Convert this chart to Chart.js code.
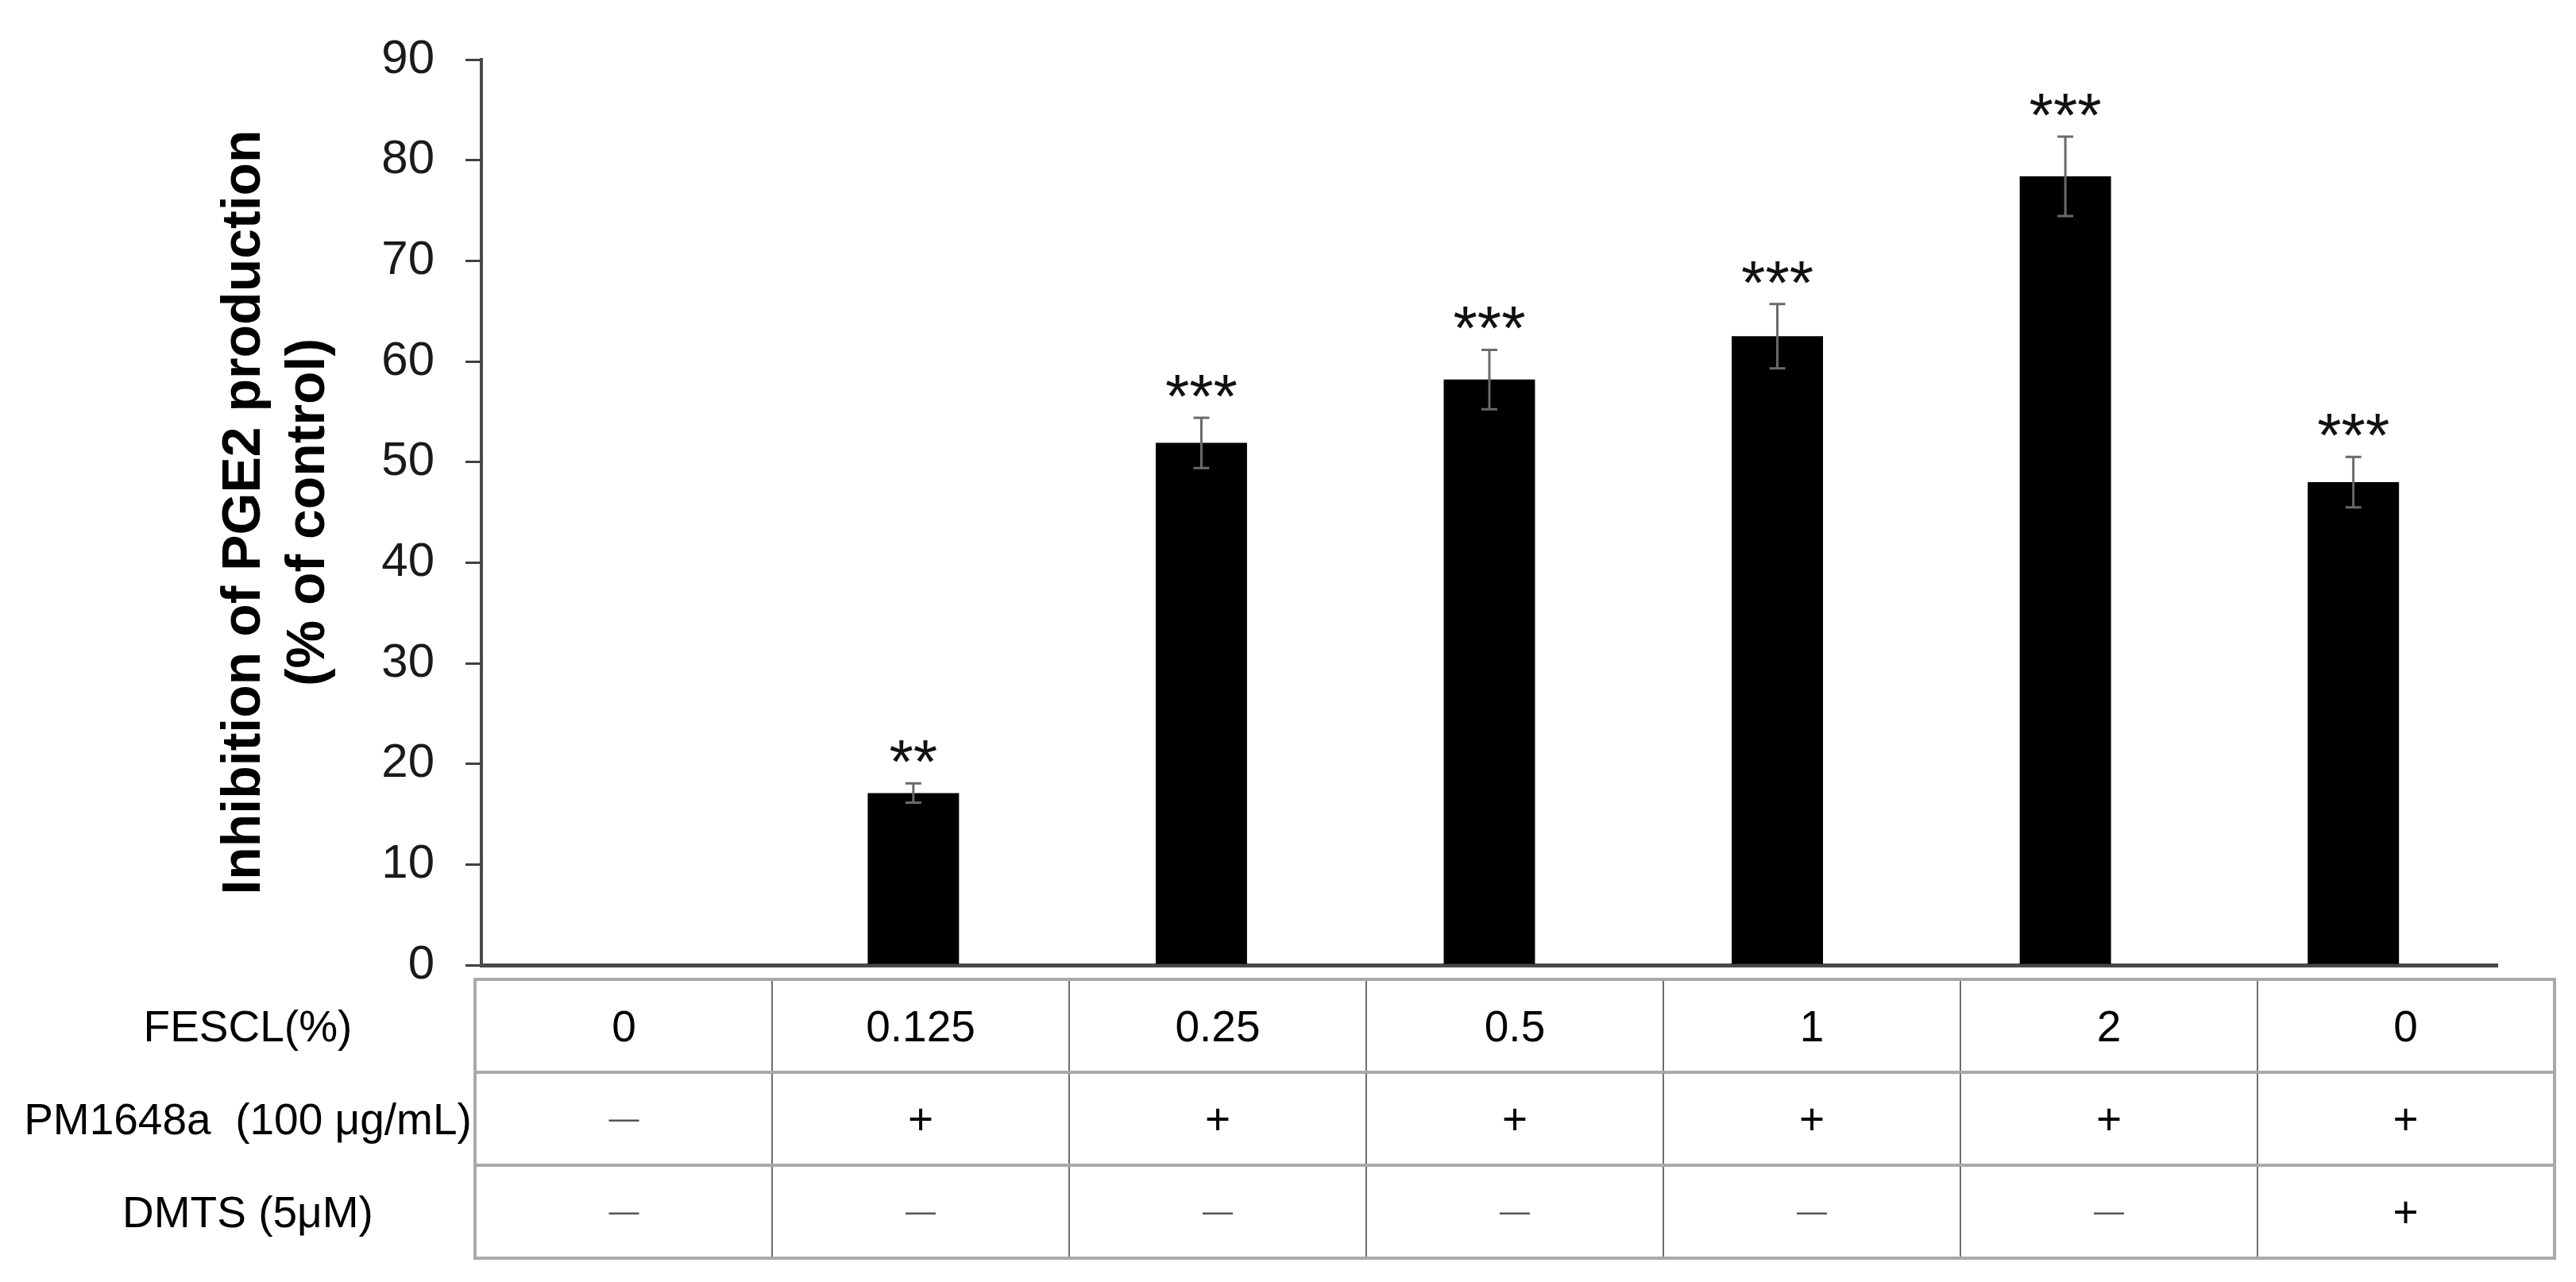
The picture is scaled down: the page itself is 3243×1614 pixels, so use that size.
<!DOCTYPE html>
<html>
<head>
<meta charset="utf-8">
<script src="https://cdn.jsdelivr.net/npm/chart.js@4/dist/chart.umd.min.js"></script>
<style>
html,body{margin:0;padding:0;background:#fff;}
#wrap{position:relative;width:3243px;height:1614px;overflow:hidden;}
#c{position:absolute;left:0;top:0;}
#tbl{position:absolute;left:0;top:1231px;border-collapse:collapse;table-layout:fixed;
  font-family:"Liberation Sans",Arial,sans-serif;font-size:55px;color:#000;}
#tbl tr{height:117px;}
#tbl td{padding:0;text-align:center;vertical-align:middle;white-space:pre;
  border-top:4px solid #a9a9a9;border-bottom:4px solid #a9a9a9;
  border-left:2px solid #6e6e6e;border-right:2px solid #6e6e6e;}
#tbl td.lab{border:none;padding-left:28px;}
#tbl td.first{border-left:4px solid #a9a9a9;}
#tbl td.last{border-right:4px solid #a9a9a9;}
#tbl span.dash{font-size:38px;color:#555;position:relative;top:-7px;}
</style>
</head>
<body>
<div id="wrap">
  <canvas id="c" width="3243" height="1614" style="width:3243px;height:1614px;"></canvas>
  <table id="tbl"></table>
</div>
<script>
// ---- data ----
const categories = ["0", "0.125", "0.25", "0.5", "1", "2", "0"];          // FESCL (%)
const pmRow      = ["—", "+", "+", "+", "+", "+", "+"];                   // PM1648a (100 μg/mL)
const dmtsRow    = ["—", "—", "—", "—", "—", "—", "+"];                   // DMTS (5μM)
const rowLabels  = ["FESCL(%)", "PM1648a  (100 μg/mL)", "DMTS (5μM)"];
const inhibition = [0, 17.1, 51.9, 58.2, 62.5, 78.4, 48.0];
const errors     = [0, 0.95, 2.5, 2.95, 3.2, 3.95, 2.5];
const significance = ["", "**", "***", "***", "***", "***", "***"];
const yMin = 0, yMax = 90, yStep = 10;
const yTitle = ["Inhibition of PGE2 production", "(% of control)"];

const FONT = '"Liberation Sans", Arial, sans-serif';

// ---- table below the axis ----
(function buildTable(){
  const tbl = document.getElementById('tbl');
  const cg = document.createElement('colgroup');
  const c0 = document.createElement('col'); c0.style.width = '598px'; cg.appendChild(c0);
  categories.forEach(() => { const c = document.createElement('col'); c.style.width = '374px'; cg.appendChild(c); });
  tbl.appendChild(cg);
  const rows = [categories, pmRow, dmtsRow];
  rows.forEach((vals, r) => {
    const tr = document.createElement('tr');
    const lab = document.createElement('td');
    lab.className = 'lab';
    lab.textContent = rowLabels[r];
    tr.appendChild(lab);
    vals.forEach((v, i) => {
      const td = document.createElement('td');
      if (i === 0) td.classList.add('first');
      if (i === vals.length - 1) td.classList.add('last');
      if (v === '—') {
        const s = document.createElement('span'); s.className = 'dash'; s.textContent = v; td.appendChild(s);
      } else {
        td.textContent = v;
      }
      tr.appendChild(td);
    });
    tbl.appendChild(tr);
  });
})();

// ---- error bars and significance marks ----
const errorBarPlugin = {
  id: 'errorBars',
  afterDatasetsDraw(chart) {
    const ctx = chart.ctx;
    const meta = chart.getDatasetMeta(0);
    const ys = chart.scales.y;
    ctx.save();
    meta.data.forEach((bar, i) => {
      const v = inhibition[i], e = errors[i];
      const x = bar.x;
      const top = ys.getPixelForValue(v + e);
      const bot = ys.getPixelForValue(v - e);
      if (e > 0) {
        ctx.strokeStyle = '#6a6a6a';
        ctx.lineWidth = 3;
        ctx.beginPath();
        ctx.moveTo(x, top); ctx.lineTo(x, bot);
        ctx.moveTo(x - 10, top); ctx.lineTo(x + 10, top);
        ctx.moveTo(x - 10, bot); ctx.lineTo(x + 10, bot);
        ctx.stroke();
      }
      if (significance[i]) {
        ctx.fillStyle = '#111';
        ctx.font = '78px ' + FONT;
        ctx.textAlign = 'center';
        ctx.textBaseline = 'alphabetic';
        ctx.fillText(significance[i], x, top);
      }
    });
    ctx.restore();
  }
};

new Chart(document.getElementById('c'), {
  type: 'bar',
  data: {
    labels: categories.map((c, i) => c + (i === categories.length - 1 ? ' ' : '')),
    datasets: [{
      data: inhibition,
      backgroundColor: '#000',
      borderWidth: 0,
      barPercentage: 0.317,
      categoryPercentage: 1.0
    }]
  },
  options: {
    responsive: false,
    devicePixelRatio: 1,
    animation: false,
    layout: { padding: { left: 0, top: 56, right: 99, bottom: 399 } },
    plugins: { legend: { display: false }, tooltip: { enabled: false } },
    scales: {
      x: {
        ticks: { display: false },
        grid: { display: false, drawTicks: false },
        border: { display: true, color: '#484848', width: 5 },
        afterFit(s) { s.height = 0; }
      },
      y: {
        min: yMin, max: yMax,
        ticks: { stepSize: yStep, padding: 39, color: '#1a1a1a', font: { family: FONT, size: 60 } },
        grid: { drawOnChartArea: false, drawTicks: true, tickLength: 20, color: '#404040', lineWidth: 3 },
        border: { display: true, color: '#484848', width: 4 },
        title: {
          display: true,
          text: yTitle,
          color: '#000',
          font: { family: FONT, size: 68, weight: 'bold', lineHeight: 1.19 },
          padding: { top: 268, bottom: 0 }
        },
        afterFit(s) { s.width = 606; }
      }
    }
  },
  plugins: [errorBarPlugin]
});
</script>
</body>
</html>
